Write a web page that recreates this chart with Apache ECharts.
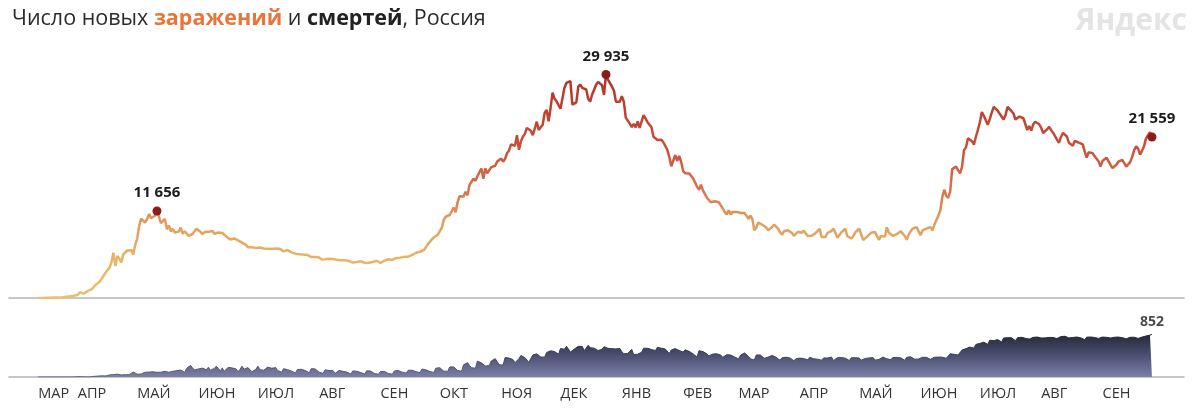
<!DOCTYPE html>
<html><head><meta charset="utf-8">
<script src="https://cdn.jsdelivr.net/npm/echarts@6/dist/echarts.min.js"></script>
<style>html,body{margin:0;padding:0;background:#fff}#c{width:1204px;height:409px}</style>
</head><body><div id="c"></div>
<script>
// Daily series starting at startDate (one value per day)
const startDate = '2020-03-12';
const cases = [
6,11,14,4,30,21,33,
52,54,53,61,71,57,163,
182,196,228,270,302,500,440,
771,601,582,658,954,1154,1175,
1459,1786,1667,2186,2558,2774,3388,
3448,4070,4785,6060,4268,5642,5236,
4774,5849,5966,6361,6198,6411,5841,
7099,7933,9623,10633,10581,10102,10559,
11231,10699,10817,11012,11656,10899,10028,
9974,10598,9200,9709,8926,9263,8764,
8849,8894,9434,8599,8946,8915,8338,
8371,8572,8952,9268,9035,8863,8536,
8831,8726,8855,8984,8985,8595,8404,
8779,8987,8706,8835,8246,8248,7843,
7790,7972,7889,7728,7600,7425,7176,
7113,6800,6852,6791,6719,6693,6556,
6760,6718,6632,6736,6611,6368,6562,
6509,6635,6615,6611,6537,6248,6422,
6428,6234,6109,6170,5940,5842,5862,
5848,5811,5871,5765,5635,5475,5509,
5482,5462,5427,5159,5189,5204,5241,
5267,5241,5212,5189,5118,5102,5057,
5065,5061,5076,4969,4839,4748,4790,
4828,4870,4921,4852,4696,4676,4711,
4741,4829,4980,4993,4729,4696,4952,
4995,5110,5195,5205,5099,5185,5363,
5363,5406,5449,5509,5488,5529,5670,
5762,5905,6065,6148,6196,6215,6431,
6595,7212,7523,7867,8135,8232,8481,
8945,9412,10499,10888,10888,11115,11615,
12126,11493,12846,13634,13868,13592,14231,
13754,15150,15099,15982,15700,16319,16202,
17340,15971,17347,16710,16550,17520,17717,
17717,18283,18140,18665,18257,18648,19404,
19768,20582,20498,20396,21798,19851,20977,
21608,21983,22778,22572,22410,21798,22702,
23610,22500,22300,23200,24822,25173,23675,
25487,27500,26683,26338,26402,25345,25500,
28145,28800,28782,29039,25900,26097,26190,
28300,28585,28137,28080,27927,26689,26300,
27250,27900,28552,28948,29200,28500,27200,
29935,29258,29018,28300,27787,26300,26513,
26300,27039,26301,24150,24100,23351,22900,
23309,22851,23652,22800,22934,24500,24400,
23541,23400,22857,21600,21734,21152,21127,
21200,20866,20770,19839,18900,17648,17741,
19138,18359,19032,18241,17000,16714,16643,
16688,16643,16048,15916,14928,14494,15166,
14407,14185,13433,13233,12828,12742,12953,
12953,12828,12742,12022,11534,11198,11749,
11198,11534,11700,11534,11359,11385,11557,
11385,11024,10595,11022,10565,9079,9445,
10103,9974,9808,9851,9445,9079,9299,
9505,9817,9632,9299,8817,8457,8951,
9128,9073,9088,8711,8328,8277,8873,
8704,8729,9024,8646,8294,8277,8328,
8294,8710,8806,9254,8173,7926,8173,
8704,8794,8996,9284,8711,8053,8271,
8807,8965,9270,8277,8050,7975,8284,
8770,8786,9270,9284,7770,7975,8217,
8419,8731,8707,8855,8696,7770,8317,
8271,8217,9462,8739,8506,8329,8217,
8554,8639,8951,8855,8303,7800,8473,
8947,9289,9252,9500,9268,8400,9052,
9000,9289,9400,9500,9052,9800,10407,
11000,11700,13500,14500,13700,13400,14200,
17262,17500,17600,17100,16700,17600,19800,
20182,21400,21665,21000,20538,21600,22500,
23543,24900,24400,23800,23200,23962,24818,
25600,25766,25082,24900,24300,23900,24500,
25600,25704,25018,24710,23900,23770,24300,
24471,24072,23947,22500,23032,22420,23270,
23600,23564,23270,22800,22100,21932,22589,
22918,22500,22144,22160,21200,20765,21571,
22100,22277,21624,20800,20958,20388,21058,
21155,20800,20992,20564,19630,18800,19509,
19594,19400,18985,18780,18325,17600,18341,
18578,18800,18780,17856,17400,17280,17837,
18250,18341,18500,18554,17600,17589,18200,
18900,19800,20329,20010,19200,19706,20329,
21379,21400,22200,21559
];
const deaths = [
0,0,0,0,0,0,0,
1,0,0,0,0,0,1,
0,1,1,0,1,8,7,
8,4,4,2,11,2,11,
13,12,18,22,24,18,22,
28,41,42,48,51,57,45,
42,50,47,47,47,72,101,
93,57,57,58,76,95,86,
98,88,104,88,94,107,96,
93,113,119,94,91,115,135,
127,150,139,153,92,174,161,
232,181,138,138,162,182,178,
169,144,197,134,112,171,216,
174,119,181,113,119,194,193,
181,161,161,109,153,216,154,
176,188,161,104,93,154,216,
147,168,135,134,198,173,174,
169,188,130,102,95,167,152,
147,161,119,95,80,150,165,
154,165,129,122,85,167,169,
161,149,95,70,73,144,144,
129,119,129,70,77,130,129,
114,124,98,70,60,122,114,
115,121,89,68,60,123,117,
119,100,69,56,55,110,121,
112,119,69,61,56,122,144,
129,119,96,61,77,135,150,
136,149,105,78,90,160,169,
142,127,108,92,91,177,180,
186,169,117,94,114,201,239,
201,174,128,131,117,244,232,
286,232,186,164,175,317,286,
283,278,219,229,230,320,346,
366,334,245,252,239,389,386,
378,374,349,286,313,368,432,
439,387,358,294,321,442,456,
463,467,401,361,397,491,507,
524,496,510,491,456,569,589,
554,613,562,497,483,560,599,
613,601,613,524,564,635,587,
601,577,555,530,561,555,606,
602,573,555,567,552,562,566,
571,508,465,482,472,506,552,
448,467,456,454,494,576,570,
575,590,551,528,529,594,594,
575,611,560,524,469,539,542,
569,585,529,526,499,544,529,
514,542,463,436,400,525,532,
509,488,463,421,436,459,488,
464,462,439,393,366,445,436,
441,432,400,376,364,436,427,
481,457,415,363,357,340,441,
456,441,410,373,333,400,407,
432,416,395,364,336,384,402,
394,391,380,378,326,367,380,
378,378,369,336,344,393,396,
366,379,356,340,336,381,390,
380,375,399,330,324,384,398,
390,388,377,348,330,384,395,
386,392,380,337,325,370,389,
381,388,389,337,348,351,380,
399,372,363,350,349,390,396,
392,393,383,346,335,393,405,
404,377,357,336,360,392,394,
405,393,369,355,357,395,400,
398,401,397,386,374,372,465,
466,453,468,440,419,540,548,
568,601,599,611,578,652,669,
672,679,697,697,654,737,752,
726,752,749,752,700,780,791,
786,799,784,764,727,784,790,
795,799,774,772,758,781,793,
792,799,790,781,764,782,790,
792,791,790,788,769,800,808,
809,815,799,782,772,791,790,
799,793,784,764,745,797,799,
800,794,791,787,772,795,799,
798,793,793,780,764,795,796,
799,796,786,769,765,792,793,
799,796,783,772,765,799,820,
820,828,838,852
];
const monthLabels = ['МАР','АПР','МАЙ','ИЮН','ИЮЛ','АВГ','СЕН','ОКТ','НОЯ','ДЕК','ЯНВ','ФЕВ','МАР','АПР','МАЙ','ИЮН','ИЮЛ','АВГ','СЕН'];
const monthDates = ['2020-03-12','2020-04-01','2020-05-01','2020-06-01','2020-07-01','2020-08-01','2020-09-01','2020-10-01','2020-11-01','2020-12-01','2021-01-01','2021-02-01','2021-03-01','2021-04-01','2021-05-01','2021-06-01','2021-07-01','2021-08-01','2021-09-01'];
const highlightDates = ['2020-05-11','2020-12-24','2021-09-26'];

const DAY = 86400000;
const t0 = Date.parse(startDate + 'T00:00:00Z');
const dayOf = d => Math.round((Date.parse(d + 'T00:00:00Z') - t0) / DAY);
const monthDays = monthDates.map(dayOf);
const fmt = v => String(v).replace(/\B(?=(\d{3})+(?!\d))/g, ' ');
const caseData = cases.map((v, i) => [i, v]);
const deathData = deaths.map((v, i) => [i, v]);
const hlData = highlightDates.map(d => [dayOf(d), cases[dayOf(d)]]);
const lastD = deaths.length - 1;

const FONT = '"Open Sans", "Noto Sans", sans-serif';
const xMin = -14.8, xMax = 579.2;
const axisLineStyle = { color: '#b4b4b4', width: 1.6 };

const chart = echarts.init(document.getElementById('c'), null, { renderer: 'canvas' });
chart.setOption({
  animation: false,
  backgroundColor: '#fff',
  title: [{
    left: 7, top: 3,
    text: '{a|Число новых }{b|заражений}{a| и }{c|смертей}{a|, Россия}',
    textStyle: {
      fontWeight: 'normal',
      rich: {
        a: { fontFamily: FONT, fontSize: 21.5, fontWeight: 'normal', color: '#2b2b2b' },
        b: { fontFamily: FONT, fontSize: 21.5, fontWeight: 'bold', color: '#e8763a' },
        c: { fontFamily: FONT, fontSize: 21.5, fontWeight: 'bold', color: '#222' }
      }
    }
  }, {
    right: 12, top: 1,
    text: 'Яндекс',
    textStyle: { fontFamily: FONT, fontSize: 30, fontWeight: 'bold', color: '#e4e4e4' }
  }],
  grid: [
    { left: 9, right: 20, top: 74, height: 224 },
    { left: 9, right: 20, top: 327, height: 50 }
  ],
  xAxis: [
    { type: 'value', gridIndex: 0, min: xMin, max: xMax,
      axisLine: { show: true, lineStyle: axisLineStyle }, axisTick: { show: false },
      axisLabel: { show: false }, splitLine: { show: false } },
    { type: 'value', gridIndex: 1, min: xMin, max: xMax,
      axisLine: { show: true, lineStyle: axisLineStyle }, axisTick: { show: false },
      splitLine: { show: false },
      axisLabel: {
        customValues: monthDays, align: 'left', margin: 9,
        fontFamily: FONT, fontSize: 14.5, color: '#333',
        formatter: v => { const i = monthDays.indexOf(Math.round(v)); return i >= 0 ? monthLabels[i] : ''; }
      } }
  ],
  yAxis: [
    { type: 'value', gridIndex: 0, min: 0, max: 30000, show: false },
    { type: 'value', gridIndex: 1, min: 0, max: 1000, show: false }
  ],
  visualMap: {
    show: false, type: 'continuous', seriesIndex: 0, dimension: 1, min: 0, max: 30000,
    inRange: { color: ['#e9c070', '#e8b566', '#e29d5c', '#d6704a', '#c9503a', '#c0402f', '#b2332a'] }
  },
  series: [
    { type: 'line', xAxisIndex: 0, yAxisIndex: 0, data: caseData, showSymbol: false,
      lineStyle: { width: 2.5 }, z: 3 },
    { type: 'scatter', xAxisIndex: 0, yAxisIndex: 0, data: hlData, symbolSize: 9,
      itemStyle: { color: '#8b1c1c', opacity: 1 }, z: 5,
      label: { show: true, position: 'top', distance: 6, formatter: p => fmt(p.value[1]),
        fontFamily: FONT, fontSize: 15, fontWeight: 'bold', color: '#1c1c1c' } },
    { type: 'line', xAxisIndex: 1, yAxisIndex: 1, data: deathData, showSymbol: false,
      lineStyle: { width: 1, color: new echarts.graphic.LinearGradient(0, 0, 0, 1, [
        { offset: 0, color: '#1f2030' }, { offset: 1, color: '#5f6388' }]) },
      areaStyle: { opacity: 1, color: new echarts.graphic.LinearGradient(0, 0, 0, 1, [
        { offset: 0, color: '#25273a' }, { offset: 0.5, color: '#4c5072' }, { offset: 1, color: '#7b80a8' }]) },
      z: 2 },
    { type: 'scatter', xAxisIndex: 1, yAxisIndex: 1, data: [[lastD, deaths[lastD]]], symbolSize: 1,
      itemStyle: { color: 'rgba(0,0,0,0)' }, z: 5,
      label: { show: true, position: 'top', distance: 5, formatter: p => fmt(p.value[1]),
        fontFamily: FONT, fontSize: 14, fontWeight: 'bold', color: '#1c1c1c' } }
  ]
});
</script></body></html>
